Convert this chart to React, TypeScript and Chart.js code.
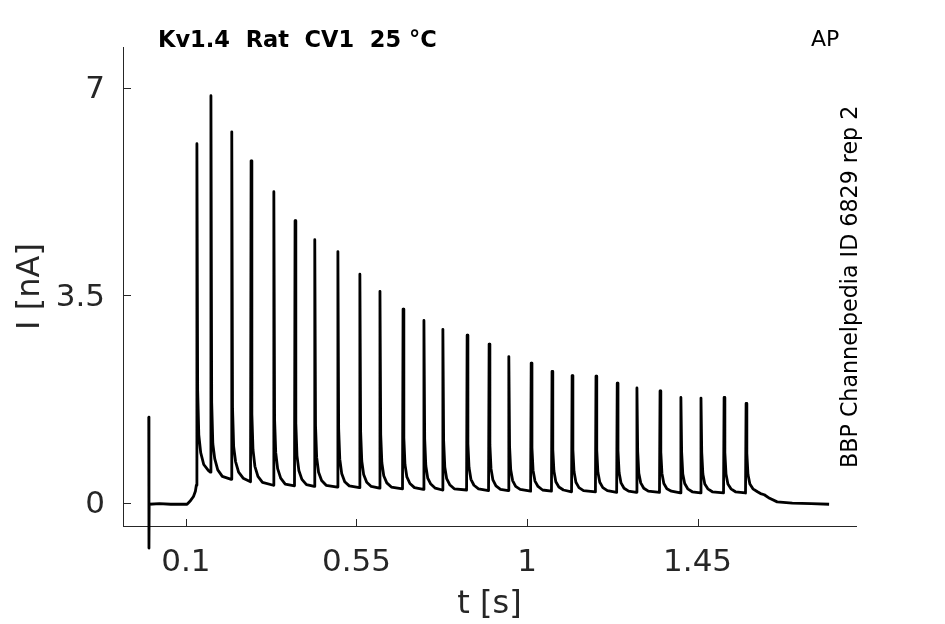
import { useEffect, useRef } from "react";
import { Chart, registerables } from "chart.js";

Chart.register(...registerables);

// ---- axis ticks ----
const xTickValues = [0.1, 0.55, 1, 1.45];
const xTickLabels = ["0.1", "0.55", "1", "1.45"];
const yTickValues = [0, 3.5, 7];
const yTickLabels = ["0", "3.5", "7"];

// ---- trace: pre-stimulus segment (s, nA) ----
const preT = [0.002, 0.0025, 0.003, 0.03, 0.06, 0.103, 0.112, 0.12, 0.125];
const preI = [1.45, -0.76, -0.02, -0.01, -0.02, -0.02, 0.04, 0.11, 0.2];

// ---- spikes: peak times (s) and peak currents (nA) ----
const spikeTimes = [
  0.129, 0.166, 0.221, 0.272, 0.332, 0.388, 0.44, 0.501, 0.559, 0.612, 0.673,
  0.728, 0.778, 0.842, 0.9, 0.952, 1.011, 1.066, 1.119, 1.182, 1.238, 1.29,
  1.351, 1.406, 1.459, 1.52, 1.578,
];
const spikePeaks = [
  6.06, 6.87, 6.26, 5.77, 5.25, 4.76, 4.44, 4.24, 3.86, 3.57, 3.27, 3.08, 2.93,
  2.83, 2.68, 2.47, 2.36, 2.22, 2.15, 2.14, 2.02, 1.94, 1.89, 1.78, 1.77, 1.78,
  1.68,
];
// current just before each spike rises (nA)
const riseFrom = [
  0.3, 0.52, 0.4, 0.36, 0.3, 0.29, 0.28, 0.27, 0.26, 0.25, 0.24, 0.23, 0.22,
  0.22, 0.21, 0.21, 0.2, 0.2, 0.19, 0.19, 0.18, 0.18, 0.18, 0.17, 0.17, 0.17,
  0.17,
];
// decay after each peak, sampled at peak + decayOffsets (s)
const decayOffsets = [0.002, 0.005, 0.01, 0.018, 0.03];
const decayA = [
  1.9, 1.7, 1.6, 1.5, 1.4, 1.35, 1.3, 1.25, 1.2, 1.15, 1.1, 1.08, 1.05, 1.0,
  0.98, 0.95, 0.93, 0.9, 0.9, 0.89, 0.88, 0.87, 0.86, 0.85, 0.85, 0.85, 0.84,
];
const decayB = [
  1.15, 1.0, 0.95, 0.9, 0.85, 0.8, 0.77, 0.74, 0.71, 0.68, 0.65, 0.63, 0.61,
  0.6, 0.58, 0.56, 0.55, 0.54, 0.53, 0.52, 0.51, 0.5, 0.5, 0.49, 0.49, 0.49,
  0.48,
];
const decayC = [
  0.85, 0.75, 0.7, 0.62, 0.58, 0.55, 0.52, 0.5, 0.48, 0.46, 0.44, 0.42, 0.41,
  0.4, 0.39, 0.38, 0.37, 0.36, 0.35, 0.35, 0.34, 0.34, 0.33, 0.33, 0.32, 0.32,
  0.32,
];
const decayD = [
  0.65, 0.56, 0.52, 0.45, 0.42, 0.4, 0.38, 0.36, 0.35, 0.34, 0.33, 0.32, 0.31,
  0.3, 0.29, 0.28, 0.28, 0.27, 0.26, 0.26, 0.25, 0.25, 0.24, 0.24, 0.24, 0.24,
  0.24,
];
const decayE = [
  0.55, 0.45, 0.42, 0.35, 0.32, 0.31, 0.3, 0.29, 0.28, 0.27, 0.26, 0.25, 0.24,
  0.24, 0.23, 0.23, 0.22, 0.22, 0.21, 0.21, 0.2, 0.2, 0.2, 0.19, 0.19, 0.19,
  0.19,
];

// ---- trace: tail after the train ----
const tailT = [1.616, 1.626, 1.64, 1.66, 1.7, 1.75, 1.797];
const tailI = [0.16, 0.14, 0.08, 0.02, 0.0, -0.01, -0.02];

function buildTrace() {
  const pts: { x: number; y: number }[] = [];
  preT.forEach((t, i) => pts.push({ x: t, y: preI[i] }));
  spikeTimes.forEach((tp, i) => {
    pts.push({ x: tp - 0.0015, y: riseFrom[i] });
    pts.push({ x: tp, y: spikePeaks[i] });
    const decays = [decayA[i], decayB[i], decayC[i], decayD[i], decayE[i]];
    decayOffsets.forEach((off, j) => pts.push({ x: tp + off, y: decays[j] }));
  });
  tailT.forEach((t, i) => pts.push({ x: t, y: tailI[i] }));
  return pts;
}

const AXIS_COLOR = "#262626";
const FONT = "DejaVu Sans";

const decorPlugin = {
  id: "decor",
  afterDraw(chart: any) {
    const ctx = chart.ctx as CanvasRenderingContext2D;
    const xs = chart.scales.x;
    const ys = chart.scales.y;
    const area = chart.chartArea;
    ctx.save();
    // inward tick marks
    ctx.strokeStyle = AXIS_COLOR;
    ctx.lineWidth = 1;
    ctx.beginPath();
    xTickValues.forEach((v) => {
      const px = Math.round(xs.getPixelForValue(v)) + 0.5;
      ctx.moveTo(px, area.bottom);
      ctx.lineTo(px, area.bottom - 7);
    });
    yTickValues.forEach((v) => {
      const py = Math.round(ys.getPixelForValue(v)) + 0.5;
      ctx.moveTo(area.left, py);
      ctx.lineTo(area.left + 8, py);
    });
    ctx.stroke();

    // header texts
    ctx.fillStyle = "#000";
    ctx.textAlign = "left";
    ctx.textBaseline = "alphabetic";
    ctx.font = `bold 22.5px "${FONT}"`;
    ctx.fillText("Kv1.4  Rat  CV1  25 °C", 158, 47);
    ctx.font = `22px "${FONT}"`;
    ctx.fillText("AP", 811, 46);
    ctx.translate(857, 468);
    ctx.rotate(-Math.PI / 2);
    ctx.font = `22.2px "${FONT}"`;
    ctx.fillText("BBP Channelpedia ID 6829 rep 2", 0, 0);
    ctx.restore();
  },
};

export default function App() {
  const ref = useRef<HTMLCanvasElement>(null);
  useEffect(() => {
    if (!ref.current) return;
    Chart.defaults.font.family = FONT;
    const chart = new Chart(ref.current, {
      type: "line",
      data: {
        datasets: [
          {
            data: buildTrace(),
            borderColor: "#000",
            borderWidth: 2.8,
            borderJoinStyle: "round",
            pointRadius: 0,
            tension: 0,
            fill: false,
            clip: false as any,
          },
        ],
      },
      options: {
        animation: false,
        responsive: false,
        parsing: false,
        layout: { padding: { top: 47, right: 89, left: 0, bottom: 0 } },
        plugins: {
          legend: { display: false },
          tooltip: { enabled: false },
          title: { display: false },
        },
        scales: {
          x: {
            type: "linear",
            position: "bottom",
            min: -0.066,
            max: 1.868,
            afterFit: (s: any) => {
              s.height = 98;
            },
            afterBuildTicks: (s: any) => {
              s.ticks = xTickValues.map((v) => ({ value: v }));
            },
            ticks: {
              autoSkip: false,
              maxRotation: 0,
              padding: 18,
              color: AXIS_COLOR,
              font: { size: 31, family: FONT },
              callback: (v: any) => xTickLabels[xTickValues.indexOf(Number(v))] ?? "",
            },
            grid: { display: false, drawTicks: false },
            border: { display: true, color: AXIS_COLOR, width: 1 },
            title: {
              display: true,
              text: "t [s]",
              color: AXIS_COLOR,
              font: { size: 32, family: FONT },
              padding: { top: 0, bottom: 0 },
            },
          },
          y: {
            type: "linear",
            position: "left",
            min: -0.387,
            max: 7.69,
            afterFit: (s: any) => {
              s.width = 123;
            },
            afterBuildTicks: (s: any) => {
              s.ticks = yTickValues.map((v) => ({ value: v }));
            },
            ticks: {
              autoSkip: false,
              padding: 18,
              labelOffset: 2,
              color: AXIS_COLOR,
              font: { size: 31, family: FONT },
              callback: (v: any) => yTickLabels[yTickValues.indexOf(Number(v))] ?? "",
            },
            grid: { display: false, drawTicks: false },
            border: { display: true, color: AXIS_COLOR, width: 1 },
            title: {
              display: true,
              text: "I [nA]",
              color: AXIS_COLOR,
              font: { size: 32, family: FONT },
              padding: { top: 11, bottom: 0 },
            },
          },
        },
      },
      plugins: [decorPlugin],
    });
    return () => chart.destroy();
  }, []);
  return (
    <div style={{ position: "absolute", left: 0, top: 0, width: 945, height: 624 }}>
      <canvas ref={ref} width={945} height={624} style={{ display: "block", width: 945, height: 624 }} />
    </div>
  );
}
